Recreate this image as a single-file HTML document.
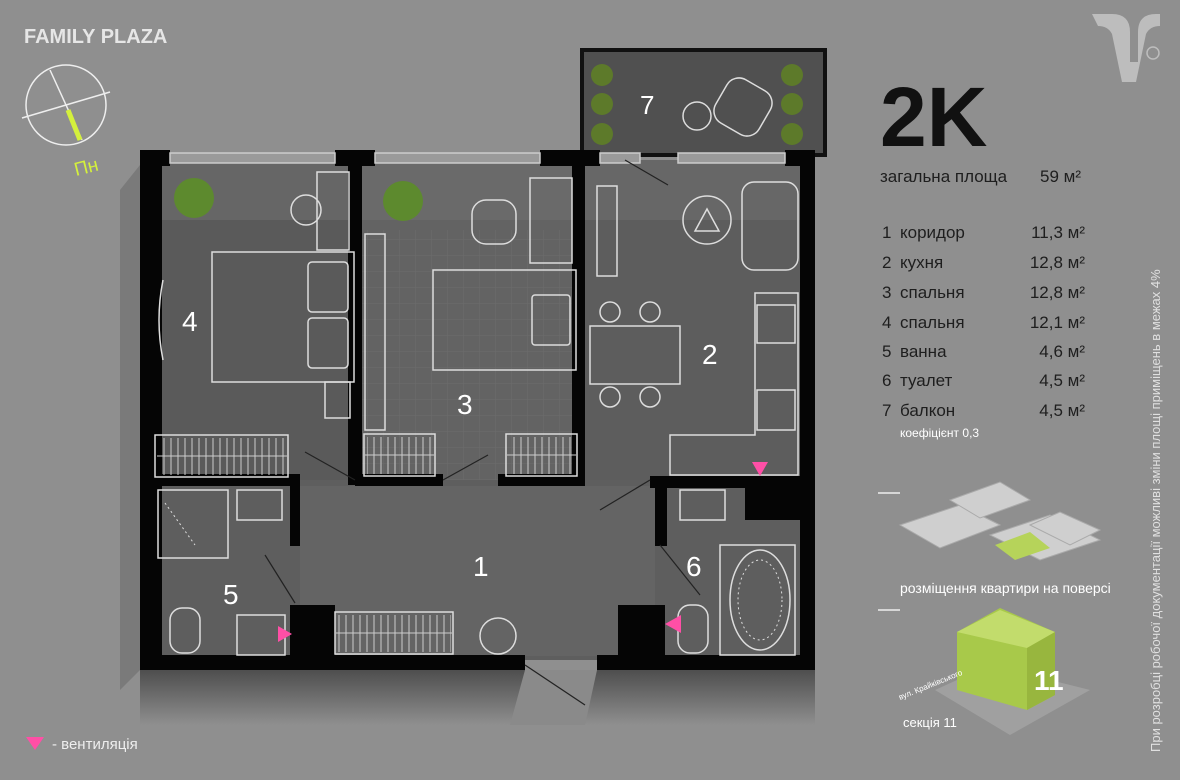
<!DOCTYPE html>
<html><head><meta charset="utf-8"><style>
html,body{margin:0;padding:0;width:1180px;height:780px;overflow:hidden;background:#8f8f8f}
svg{display:block}
text{font-family:"Liberation Sans",sans-serif}
</style></head><body>
<svg width="1180" height="780" viewBox="0 0 1180 780">
<defs>
<linearGradient id="sh" x1="0" y1="0" x2="0" y2="1"><stop offset="0" stop-color="#4e4e4e"/><stop offset="1" stop-color="#8f8f8f"/></linearGradient>
<pattern id="grid" width="16" height="16" patternUnits="userSpaceOnUse"><path d="M16 0V16H0" fill="none" stroke="#777" stroke-width="0.8"/></pattern>
<pattern id="hatch" width="7" height="40" patternUnits="userSpaceOnUse"><line x1="3" y1="0" x2="3" y2="40" stroke="#ccc" stroke-width="1"/></pattern>
</defs>
<rect width="1180" height="780" fill="#8f8f8f"/>
<!-- shadows -->
<polygon points="140,165 120,190 120,690 140,670" fill="#7a7a7a"/>
<rect x="140" y="670" width="675" height="55" fill="url(#sh)"/>
<polygon points="525,670 597,670 585,725 510,725" fill="#8a8a8a"/>
<!-- title -->
<text x="24" y="43" font-size="20" font-weight="bold" fill="#e6e6e6">FAMILY PLAZA</text>
<!-- compass -->
<g stroke="#eee" fill="none" stroke-width="1.5">
<circle cx="66" cy="105" r="40"/>
<line x1="22" y1="118" x2="110" y2="92"/>
<line x1="50" y1="70" x2="82" y2="140"/>
</g>
<line x1="68" y1="110" x2="80" y2="140" stroke="#d4f03c" stroke-width="5"/>
<text x="76" y="176" font-size="19" fill="#d4f03c" transform="rotate(-14 76 176)">Пн</text>
<!-- balcony -->
<rect x="582" y="50" width="243" height="105" fill="#505050" stroke="#111" stroke-width="4"/>
<g fill="#5d7a2a"><circle cx="602" cy="75" r="11"/><circle cx="602" cy="104" r="11"/><circle cx="602" cy="134" r="11"/><circle cx="792" cy="75" r="11"/><circle cx="792" cy="104" r="11"/><circle cx="792" cy="134" r="11"/></g>
<g stroke="#ddd" fill="none" stroke-width="1.5"><circle cx="697" cy="116" r="14"/><rect x="718" y="82" width="50" height="50" rx="14" transform="rotate(30 743 107)"/></g>
<text x="640" y="114" font-size="26" fill="#fff">7</text>
<!-- floor -->
<rect x="150" y="160" width="655" height="500" fill="#5e5e5e"/>
<rect x="150" y="160" width="205" height="320" fill="#5a5a5a"/>
<rect x="355" y="160" width="225" height="320" fill="#636363"/>
<rect x="355" y="230" width="225" height="250" fill="url(#grid)" opacity=".6"/>
<rect x="585" y="160" width="220" height="320" fill="#5d5d5d"/>
<rect x="300" y="486" width="355" height="170" fill="#646464"/>
<rect x="150" y="160" width="655" height="60" fill="#727272" opacity=".5"/>
<!-- walls -->
<g fill="#050505">
<rect x="140" y="150" width="22" height="520"/>
<rect x="800" y="150" width="15" height="520"/>
<rect x="140" y="150" width="30" height="16"/>
<rect x="335" y="150" width="40" height="16"/>
<rect x="540" y="150" width="60" height="16"/>
<rect x="785" y="150" width="30" height="16"/>
<rect x="348" y="150" width="14" height="335"/>
<rect x="572" y="150" width="13" height="330"/>
<rect x="140" y="474" width="160" height="12"/>
<rect x="355" y="474" width="88" height="12"/>
<rect x="498" y="474" width="87" height="12"/>
<rect x="650" y="476" width="165" height="12"/>
<rect x="290" y="474" width="10" height="72"/>
<rect x="655" y="476" width="12" height="70"/>
<rect x="290" y="605" width="45" height="60"/>
<rect x="618" y="605" width="47" height="60"/>
<rect x="745" y="476" width="60" height="44"/>
<rect x="140" y="655" width="385" height="15"/>
<rect x="597" y="655" width="218" height="15"/>
</g>
<!-- windows -->
<g stroke="#ccc" stroke-width="1.5" fill="#9a9a9a"><rect x="170" y="153" width="165" height="10"/><rect x="375" y="153" width="165" height="10"/><rect x="600" y="153" width="40" height="10"/><rect x="678" y="153" width="107" height="10"/></g>
<!-- wardrobes hatch -->
<g fill="url(#hatch)"><rect x="158" y="438" width="128" height="37"/><rect x="367" y="437" width="66" height="37"/><rect x="509" y="437" width="66" height="37"/><rect x="338" y="615" width="113" height="37"/></g>
<g stroke="#ccc" stroke-width="1"><line x1="157" y1="456" x2="287" y2="456"/><line x1="365" y1="455" x2="434" y2="455"/><line x1="507" y1="455" x2="576" y2="455"/><line x1="336" y1="633" x2="452" y2="633"/></g>
<!-- furniture -->
<g stroke="#ddd" stroke-width="1.5" fill="none">
<rect x="212" y="252" width="142" height="130"/><rect x="308" y="262" width="40" height="50" rx="4"/><rect x="308" y="318" width="40" height="50" rx="4"/>
<rect x="317" y="172" width="32" height="78"/><circle cx="306" cy="210" r="15"/><rect x="325" y="382" width="25" height="36"/>
<path d="M163 280 q-8 40 0 80"/>
<rect x="433" y="270" width="143" height="100"/><rect x="532" y="295" width="38" height="50" rx="3"/>
<rect x="365" y="234" width="20" height="196"/><rect x="472" y="200" width="44" height="44" rx="14"/><rect x="530" y="178" width="42" height="85"/>
<rect x="155" y="435" width="133" height="42"/><rect x="364" y="434" width="71" height="42"/><rect x="506" y="434" width="71" height="42"/>
<rect x="597" y="186" width="20" height="90"/><circle cx="707" cy="220" r="24"/><path d="M695 231 l12-22 12 22z"/><rect x="742" y="182" width="56" height="88" rx="12"/>
<rect x="590" y="326" width="90" height="58"/><circle cx="610" cy="312" r="10"/><circle cx="650" cy="312" r="10"/><circle cx="610" cy="397" r="10"/><circle cx="650" cy="397" r="10"/>
<path d="M755 293 h43 v182 h-128 v-40 h85z"/><rect x="757" y="305" width="38" height="38"/><rect x="757" y="390" width="38" height="40"/>
<rect x="158" y="490" width="70" height="68"/><rect x="237" y="490" width="45" height="30"/><rect x="170" y="608" width="30" height="45" rx="12"/><rect x="237" y="615" width="48" height="40"/>
<rect x="680" y="490" width="45" height="30"/><path d="M720 545 h75 v110 h-75z"/><ellipse cx="760" cy="600" rx="30" ry="50"/><rect x="678" y="605" width="30" height="48" rx="12"/>
<rect x="335" y="612" width="118" height="42"/><circle cx="498" cy="636" r="18"/>
</g>
<g stroke="#ddd" stroke-width="1" fill="none" stroke-dasharray="2 3"><line x1="165" y1="503" x2="195" y2="545"/><ellipse cx="760" cy="600" rx="22" ry="40"/></g>
<g stroke="#222" stroke-width="1.2"><line x1="305" y1="452" x2="355" y2="480"/><line x1="443" y1="480" x2="488" y2="455"/><line x1="600" y1="510" x2="650" y2="480"/><line x1="265" y1="555" x2="295" y2="603"/><line x1="660" y1="545" x2="700" y2="595"/><line x1="525" y1="665" x2="585" y2="705"/><line x1="625" y1="160" x2="668" y2="185"/></g>
<g fill="#5d8a2e"><circle cx="194" cy="198" r="20"/><circle cx="403" cy="201" r="20"/></g>
<g fill="#ff4fa6"><path d="M752 462 h16 l-8 14z"/><path d="M292 634 l-14 -8 v16z"/><path d="M665 624 l16 -9 v18z"/><path d="M26 737 h18 l-9 13z"/></g>
<g fill="#fff" font-size="28"><text x="182" y="331">4</text><text x="457" y="414">3</text><text x="702" y="364">2</text><text x="473" y="576">1</text><text x="223" y="604">5</text><text x="686" y="576">6</text></g>
<text x="52" y="749" font-size="15" fill="#eee">- вентиляція</text>
<!-- right panel -->
<path d="M1092 14 h20 q18 0 18 18 v30 h8 v-30 q0 -18 18 -18 h4 v12 q-10 0 -14 8 l-10 48 h-14 l-10 -48 q-4 -8 -14 -8z" fill="#bdbdbd"/>
<circle cx="1153" cy="53" r="6" fill="none" stroke="#bdbdbd" stroke-width="1.5"/>
<text x="880" y="146" font-size="84" font-weight="bold" fill="#111">2K</text>
<g font-size="17" fill="#1e1e1e">
<text x="880" y="182">загальна площа</text><text x="1040" y="182">59 м²</text>
<text x="882" y="238">1</text><text x="900" y="238">коридор</text><text x="1085" y="238" text-anchor="end">11,3 м²</text>
<text x="882" y="268">2</text><text x="900" y="268">кухня</text><text x="1085" y="268" text-anchor="end">12,8 м²</text>
<text x="882" y="298">3</text><text x="900" y="298">спальня</text><text x="1085" y="298" text-anchor="end">12,8 м²</text>
<text x="882" y="328">4</text><text x="900" y="328">спальня</text><text x="1085" y="328" text-anchor="end">12,1 м²</text>
<text x="882" y="357">5</text><text x="900" y="357">ванна</text><text x="1085" y="357" text-anchor="end">4,6 м²</text>
<text x="882" y="386">6</text><text x="900" y="386">туалет</text><text x="1085" y="386" text-anchor="end">4,5 м²</text>
<text x="882" y="416">7</text><text x="900" y="416">балкон</text><text x="1085" y="416" text-anchor="end">4,5 м²</text>
</g>
<text x="900" y="437" font-size="12" fill="#fff">коефіцієнт 0,3</text>
<line x1="878" y1="493" x2="900" y2="493" stroke="#eee" stroke-width="1.5"/>
<line x1="878" y1="610" x2="900" y2="610" stroke="#eee" stroke-width="1.5"/>
<g fill="#cfcfcf" stroke="#aaa"><polygon points="900,525 960,505 1000,525 940,548"/><polygon points="950,500 1000,482 1030,500 980,518"/><polygon points="990,535 1050,515 1100,540 1040,560"/><polygon points="1030,525 1060,512 1100,530 1070,545"/></g>
<polygon points="995,545 1030,532 1050,548 1015,560" fill="#b6d35a"/>
<text x="900" y="593" font-size="14" fill="#fff">розміщення квартири на поверсі</text>
<polygon points="935,690 990,665 1090,690 1010,735" fill="#a0a0a0"/>
<polygon points="957,632 1000,608 1055,632 1055,695 1027,710 957,690" fill="#a8c94a"/>
<polygon points="957,632 1000,610 1055,632 1027,648" fill="#c2dc6c"/>
<polygon points="1027,648 1055,632 1055,695 1027,710" fill="#98b63e"/>
<text x="1034" y="690" font-size="28" font-weight="bold" fill="#fff">11</text>
<text x="900" y="700" font-size="8" fill="#fff" transform="rotate(-22 900 700)">вул. Крайківського</text>
<text x="903" y="727" font-size="13" fill="#fff">секція 11</text>
<text x="1160" y="752" font-size="13" fill="#e0e0e0" transform="rotate(-90 1160 752)">При розробці робочої документації можливі зміни площі приміщень в межах 4%</text>
</svg>
</body></html>
